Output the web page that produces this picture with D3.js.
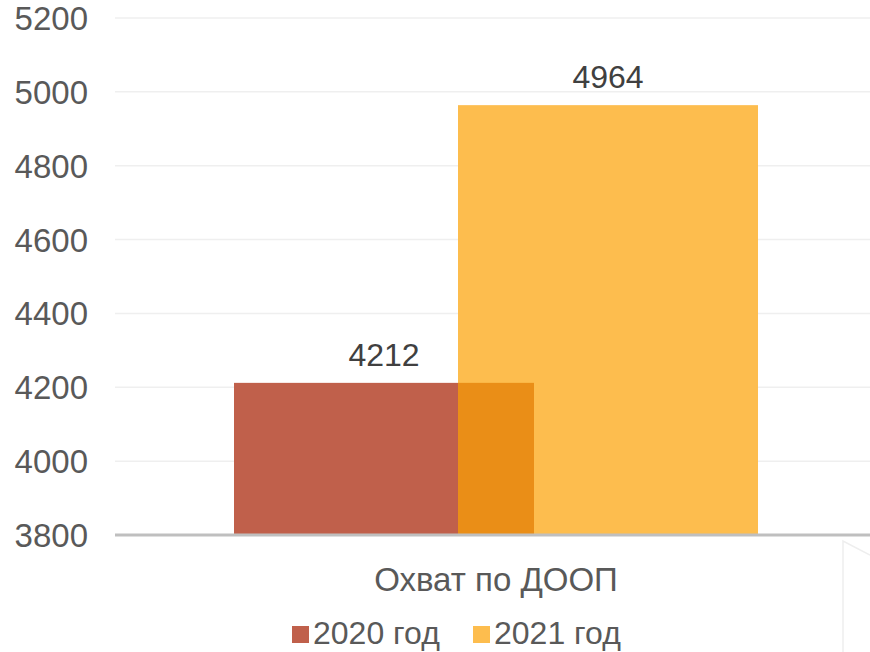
<!DOCTYPE html>
<html>
<head>
<meta charset="utf-8">
<script src="https://cdn.jsdelivr.net/npm/d3@7"></script>
<style>
  body { margin: 0; background: #fff; }
  text { font-family: "Liberation Sans", Arial, sans-serif; }
</style>
</head>
<body>
<div id="chart"></div>
<script>
var w = 870;
var h = 652;

// data
var categories = ["Охват по ДООП"];
var seriesNames = ["2020 год", "2021 год"];
var seriesValues = [4212, 4964];
var seriesColors = ["#C0604B", "#FDBD4E"];
var overlapColor = "#EA8E17";
var yTicks = [3800, 4000, 4200, 4400, 4600, 4800, 5000, 5200];

var svg = d3.select("#chart").append("svg")
    .attr("width", w)
    .attr("height", h);

var y = d3.scaleLinear().domain([3800, 5200]).range([535, 18]);
var x = d3.scaleBand().domain(categories).range([117, 875]);

// gridlines
svg.append("g")
    .selectAll("line")
    .data(yTicks.slice(1))
    .enter().append("line")
    .attr("x1", 115)
    .attr("x2", w)
    .attr("y1", d => y(d))
    .attr("y2", d => y(d))
    .attr("stroke", "#EFEFEF")
    .attr("stroke-width", 1.5);

// y tick labels
svg.append("g")
    .selectAll("text")
    .data(yTicks)
    .enter().append("text")
    .attr("x", 88)
    .attr("y", d => y(d) + 12)
    .attr("text-anchor", "end")
    .attr("font-size", 33)
    .attr("fill", "#595959")
    .text(d => d);

// bars: two series, overlapping
var barW = 300;
var offsets = [-112, 112];
var center = x(categories[0]) + x.bandwidth() / 2;

function barX(i) { return center + offsets[i] - barW / 2; }

svg.append("g")
    .selectAll("rect")
    .data(seriesValues)
    .enter().append("rect")
    .attr("x", (d, i) => barX(i))
    .attr("y", d => y(d))
    .attr("width", barW)
    .attr("height", d => y(3800) - y(d))
    .attr("fill", (d, i) => seriesColors[i]);

// overlap area where the translucent bars cross
var ox1 = barX(1);
var ox2 = barX(0) + barW;
var oTop = Math.min(seriesValues[0], seriesValues[1]);
svg.append("rect")
    .attr("x", ox1)
    .attr("y", y(oTop))
    .attr("width", ox2 - ox1)
    .attr("height", y(3800) - y(oTop))
    .attr("fill", overlapColor);

// data labels
svg.append("g")
    .selectAll("text")
    .data(seriesValues)
    .enter().append("text")
    .attr("x", (d, i) => center + offsets[i])
    .attr("y", d => y(d) - 17)
    .attr("text-anchor", "middle")
    .attr("font-size", 32)
    .attr("fill", "#404040")
    .text(d => d);

// x axis line
svg.append("line")
    .attr("x1", 115)
    .attr("x2", w)
    .attr("y1", y(3800))
    .attr("y2", y(3800))
    .attr("stroke", "#BFBFBF")
    .attr("stroke-width", 3);

// category label
svg.append("text")
    .attr("x", center)
    .attr("y", 591)
    .attr("text-anchor", "middle")
    .attr("font-size", 33)
    .attr("fill", "#595959")
    .text(categories[0]);

// faint leftover border at bottom right
svg.append("path")
    .attr("d", "M843,652 L843,541 L870,555")
    .attr("fill", "none")
    .attr("stroke", "#EEEEEE")
    .attr("stroke-width", 1.5);

// legend
var legendX = [292, 473];
var lg = svg.append("g")
    .selectAll("g")
    .data(seriesNames)
    .enter().append("g")
    .attr("transform", (d, i) => "translate(" + legendX[i] + ",0)");
lg.append("rect")
    .attr("x", 0)
    .attr("y", 626)
    .attr("width", 17)
    .attr("height", 17)
    .attr("fill", (d, i) => seriesColors[i]);
lg.append("text")
    .attr("x", 21)
    .attr("y", 644)
    .attr("font-size", 32)
    .attr("fill", "#595959")
    .text(d => d);
</script>
</body>
</html>
